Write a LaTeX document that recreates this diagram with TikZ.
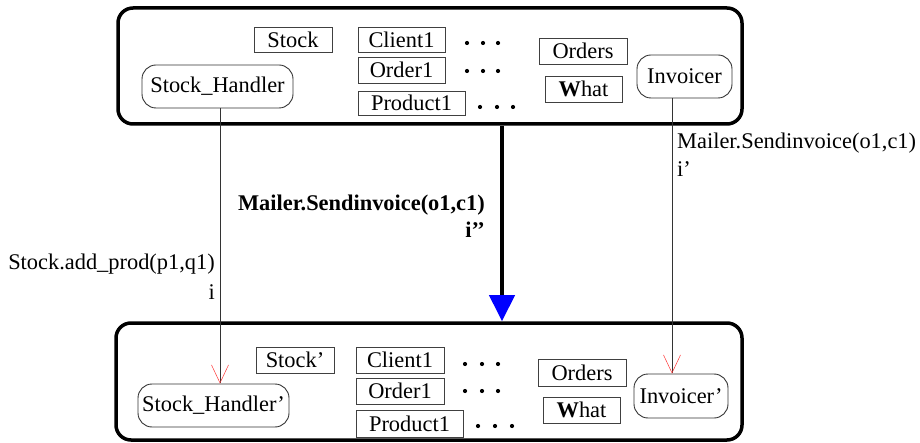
\documentclass[tikz,border=0pt]{standalone}
\usepackage{fontspec}
\setmainfont{Liberation Serif}
\usetikzlibrary{arrows.meta}
\tikzset{
  every node/.style={font=\fontsize{22.4}{26}\selectfont},
  frame/.style={draw, line width=3.5pt, rounded corners=15pt, inner sep=0pt},
  item/.style={draw=black!75, line width=0.9pt, inner sep=0pt, minimum height=25pt},
  proc/.style={draw=black!80, line width=0.9pt, rounded corners=14pt, inner sep=0pt, minimum height=43pt},
  msg/.style={draw=black!80, line width=0.7pt, -{Straight Barb[color=red!80, length=18pt, width=17pt, line width=0.5pt]}},
  bigmsg/.style={draw, line width=4pt, -{Triangle[color=blue, length=26pt, width=25pt]}},
  lbl/.style={inner sep=0pt},
  dotmark/.style={circle, fill, inner sep=0pt, minimum size=4.2pt}
}
\begin{document}
\begin{tikzpicture}[x=1pt, y=-1pt]
\useasboundingbox (0,0) rectangle (920,443);
% frames
\node[frame, minimum width=624pt, minimum height=116pt] (top) at (430,66) {};
\node[frame, minimum width=626pt, minimum height=117pt] (bot) at (429,381.5) {};
% top contents
\node[item, minimum width=78pt] (stock) at (293,39.5) {Stock};
\node[item, minimum width=87pt] (client) at (401.5,39.5) {Client1};
\node[item, minimum width=87pt, minimum height=26pt] (order) at (401.5,70) {Order1};
\node[item, minimum width=107pt, minimum height=24pt] (product) at (411.5,103) {Product1};
\node[item, minimum width=88pt, minimum height=26pt] (orders) at (583,51) {Orders};
\node[item, minimum width=77pt, minimum height=26pt] (what) at (583.5,89) {\textbf{W}hat};
\node[proc, minimum width=151pt] (sh) at (217.5,86.5) {Stock\_Handler};
\node[proc, minimum width=95pt] (inv) at (684.5,76.5) {Invoicer};
\foreach \x [count=\i] in {467,483,498} {
  \node[dotmark] (tc\i) at (\x,43) {};
  \node[dotmark] (to\i) at (\x,71) {};
}
\foreach \x [count=\i] in {480,497,513} {
  \node[dotmark] (tp\i) at (\x,107) {};
}
% bottom contents
\node[item, minimum width=78pt, minimum height=26pt] (stock2) at (295,360) {Stock’};
\node[item, minimum width=88pt, minimum height=26pt] (client2) at (400,360) {Client1};
\node[item, minimum width=88pt, minimum height=26pt] (order2) at (400,391) {Order1};
\node[item, minimum width=107pt, minimum height=27pt] (product2) at (409.5,423.5) {Product1};
\node[item, minimum width=88pt, minimum height=27pt] (orders2) at (582,372.5) {Orders};
\node[item, minimum width=77pt, minimum height=26pt] (what2) at (581.5,410) {\textbf{W}hat};
\node[proc, minimum width=151pt] (sh2) at (213.5,405.5) {Stock\_Handler’};
\node[proc, minimum width=94pt, minimum height=44pt] (inv2) at (681,396) {Invoicer’};
\foreach \x [count=\i] in {465,482,498} {
  \node[dotmark] (bc\i) at (\x,364) {};
  \node[dotmark] (bo\i) at (\x,391) {};
}
\foreach \x [count=\i] in {478,495,512} {
  \node[dotmark] (bp\i) at (\x,426) {};
}
% connectors
\draw[msg] ([xshift=2.5pt]sh.south) -- ([xshift=6.5pt]sh2.north);
\draw[msg] ([xshift=-12.5pt]inv.south) -- ([xshift=-9pt]inv2.north);
\draw[bigmsg] ([xshift=72pt]top.south) -- ([xshift=73pt]bot.north);
% labels
\node[lbl, anchor=east] (l1) at (215,264) {Stock.add\_prod(p1,q1)};
\node[lbl, anchor=east] (l1b) at (215,292) {i};
\node[lbl, anchor=east] (l2) at (485,205) {\textbf{Mailer.Sendinvoice(o1,c1)}};
\node[lbl, anchor=east] (l2b) at (485,230) {\textbf{i’’}};
\node[lbl, anchor=west] (l3) at (677,143) {Mailer.Sendinvoice(o1,c1)};
\node[lbl, anchor=west] (l3b) at (677,169) {i’};
\end{tikzpicture}
\end{document}
